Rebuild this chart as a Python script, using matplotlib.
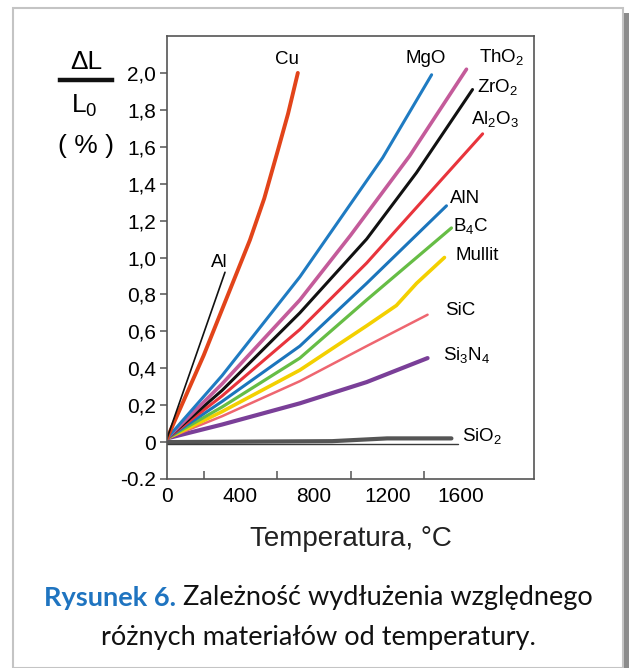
import numpy as np
import matplotlib
matplotlib.use("Agg")
import matplotlib.pyplot as plt
from matplotlib.patches import Rectangle
from matplotlib.lines import Line2D

plt.rcParams['font.family'] = ['Liberation Sans', 'DejaVu Sans']
plt.rcParams['mathtext.fontset'] = 'custom'
plt.rcParams['mathtext.rm'] = 'Liberation Sans'

# ── data (temperature in °C, elongation in %) ─────────────────────────────────
t_al = [0, 316]
v_al = [0.02, 0.92]

t_cu = [0, 200, 452, 530, 604, 660, 713]
v_cu = [0.02, 0.47, 1.095, 1.32, 1.58, 1.78, 2.00]

t_mgo = [0, 300, 724, 1175, 1442]
v_mgo = [0.02, 0.36, 0.895, 1.54, 1.99]

t_tho2 = [0, 300, 724, 1000, 1322, 1632]
v_tho2 = [0.02, 0.315, 0.77, 1.12, 1.55, 2.02]

t_zro2 = [0, 300, 724, 1088, 1360, 1665]
v_zro2 = [0.02, 0.28, 0.70, 1.10, 1.46, 1.91]

t_al2o3 = [0, 300, 724, 1088, 1720]
v_al2o3 = [0.02, 0.25, 0.61, 0.97, 1.67]

t_aln = [0, 300, 724, 1088, 1523]
v_aln = [0.02, 0.22, 0.52, 0.86, 1.28]

t_b4c = [0, 300, 724, 1088, 1550]
v_b4c = [0.02, 0.19, 0.455, 0.77, 1.16]

t_mullit = [0, 300, 724, 1088, 1250, 1360, 1512]
v_mullit = [0.02, 0.165, 0.39, 0.63, 0.74, 0.86, 1.00]

t_sic = [0, 300, 724, 1088, 1420]
v_sic = [0.02, 0.14, 0.33, 0.52, 0.69]

t_si3n4 = [0, 300, 724, 1088, 1420]
v_si3n4 = [0.02, 0.095, 0.21, 0.325, 0.455]

t_sio2 = [0, 900, 1200, 1550]
v_sio2 = [0.0, 0.005, 0.02, 0.02]

t_base = [0, 1585]
v_base = [-0.012, -0.012]

yticks = [-0.2, 0, 0.2, 0.4, 0.6, 0.8, 1.0, 1.2, 1.4, 1.6, 1.8, 2.0]
ytick_labels = ['-0.2', '0', '0,2', '0,4', '0,6', '0,8', '1,0', '1,2',
                '1,4', '1,6', '1,8', '2,0']
xticks_major = [0, 400, 800, 1200, 1600]
xticks_minor = [200, 400, 600, 800, 1000, 1200, 1400, 1600]

# ── figure ────────────────────────────────────────────────────────────────────
W, H = 629, 668
fig = plt.figure(figsize=(W / 100, H / 100), dpi=100)

# outer frame with a grey shadow on the right
fig.patches.append(Rectangle((13 / W, 0), (623 - 13) / W, 1 - 8 / H,
                             transform=fig.transFigure, fill=False,
                             edgecolor='#c4c4c4', lw=1.5))
fig.patches.append(Rectangle((624 / W, 0), 5 / W, 1 - 13 / H,
                             transform=fig.transFigure, facecolor='#8c8c8c',
                             edgecolor='none'))

ax = fig.add_axes([167 / W, 1 - 479 / H, (534 - 167) / W, (479 - 36) / H])
ax.set_xlim(0, 2000)
ax.set_ylim(-0.2, 2.2)

series = [
    (t_sio2, v_sio2, '#555555', 3.0),
    (t_base, v_base, '#3a3a3a', 1.0),
    (t_si3n4, v_si3n4, '#7a3f98', 3.0),
    (t_sic, v_sic, '#ee6670', 1.8),
    (t_mullit, v_mullit, '#f3d000', 2.6),
    (t_b4c, v_b4c, '#66bd45', 2.3),
    (t_aln, v_aln, '#1b75bc', 2.2),
    (t_al2o3, v_al2o3, '#e8343c', 2.2),
    (t_zro2, v_zro2, '#111111', 2.2),
    (t_tho2, v_tho2, '#c45b9a', 2.6),
    (t_mgo, v_mgo, '#1f7bc2', 2.2),
    (t_cu, v_cu, '#e2441a', 2.8),
    (t_al, v_al, '#111111', 1.2),
]
for t, v, c, lw in series:
    ax.plot(t, v, color=c, lw=lw, solid_capstyle='round')

# material labels
lab_fs = 13.5
ax.text(653, 2.07, 'Cu', ha='center', va='center', fontsize=lab_fs)
ax.text(283, 0.975, 'Al', ha='center', va='center', fontsize=lab_fs)
ax.text(1409, 2.08, 'MgO', ha='center', va='center', fontsize=lab_fs)
ax.text(1698, 2.08, r'ThO$_\mathrm{2}$', ha='left', va='center', fontsize=lab_fs)
ax.text(1692, 1.92, r'ZrO$_\mathrm{2}$', ha='left', va='center', fontsize=lab_fs)
ax.text(1654, 1.745, r'Al$_\mathrm{2}$O$_\mathrm{3}$', ha='left', va='center', fontsize=lab_fs)
ax.text(1540, 1.32, 'AlN', ha='left', va='center', fontsize=lab_fs)
ax.text(1561, 1.165, r'B$_\mathrm{4}$C', ha='left', va='center', fontsize=lab_fs)
ax.text(1572, 1.01, 'Mullit', ha='left', va='center', fontsize=lab_fs)
ax.text(1513, 0.715, 'SiC', ha='left', va='center', fontsize=lab_fs)
ax.text(1502, 0.466, r'Si$_\mathrm{3}$N$_\mathrm{4}$', ha='left', va='center', fontsize=lab_fs)
ax.text(1605, 0.027, r'SiO$_\mathrm{2}$', ha='left', va='center', fontsize=lab_fs)

# ticks: y outward with comma decimals, x inward
ax.set_yticks(yticks)
ax.set_yticklabels(ytick_labels)
ax.set_xticks(xticks_major)
ax.set_xticklabels([str(x) for x in xticks_major])
ax.set_xticks(xticks_minor, minor=True)
ax.tick_params(axis='y', direction='out', length=5, width=1.1,
               color='#555555', labelsize=15, pad=3)
ax.tick_params(axis='x', which='both', direction='in', length=0,
               labelsize=15, pad=6)
ax.tick_params(axis='x', which='minor', direction='in', length=6,
               width=1.1, color='#555555')
for s in ax.spines.values():
    s.set_color('#555555')
    s.set_linewidth(1.2)

ax.set_xlabel('Temperatura, °C', fontsize=20, labelpad=14, color='#222222')

# y label as a fraction  ΔL / L0  ( % )
fig.text(86 / W, 1 - 62 / H, 'ΔL', ha='center', va='center', fontsize=19)
fig.add_artist(Line2D([60 / W, 112 / W], [1 - 80 / H, 1 - 80 / H],
                      transform=fig.transFigure, color='#111111', lw=3.2))
fig.text(84 / W, 1 - 106 / H, r'L$_\mathrm{0}$', ha='center', va='center', fontsize=19)
fig.text(86 / W, 1 - 146 / H, '( % )', ha='center', va='center', fontsize=19)

# caption: two lines centred in the frame, first one starts with a bold blue tag
cap_fs = 19.5
cap_font = ['Lato', 'DejaVu Sans']
cx = 318
t1 = fig.text(0, 0, 'Rysunek 6.', fontsize=cap_fs, fontweight='bold',
              color='#1f74c0', family=cap_font, va='center')
t2 = fig.text(0, 0, ' Zależność wydłużenia względnego', fontsize=cap_fs,
              color='#111111', family=cap_font, va='center')
fig.canvas.draw()
r = fig.canvas.get_renderer()
w1 = t1.get_window_extent(r).width
w2 = t2.get_window_extent(r).width
x0 = cx - (w1 + w2) / 2
t1.set_position((x0 / W, 1 - 598 / H))
t2.set_position(((x0 + w1) / W, 1 - 598 / H))
fig.text(cx / W, 1 - 637 / H, 'różnych materiałów od temperatury.',
         ha='center', va='center', fontsize=cap_fs, color='#111111',
         family=cap_font)

fig.savefig('out.png', dpi=100)
